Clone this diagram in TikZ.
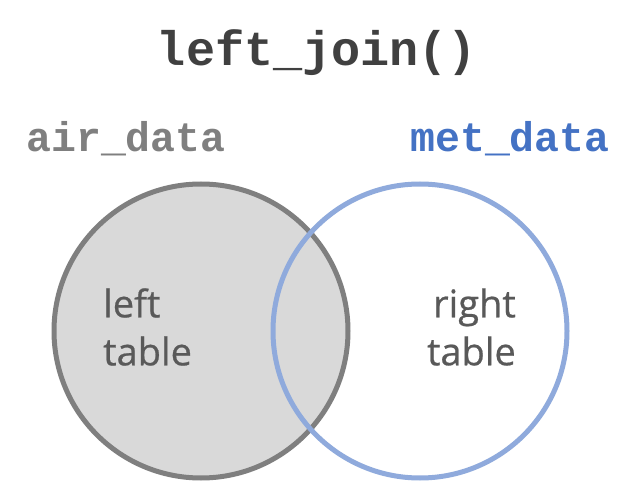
\documentclass[tikz,border=0pt]{standalone}
\usepackage{fontspec}
\setmainfont{Open Sans}[FakeBold=0.6]
\newfontfamily\codefont{Liberation Mono}
\definecolor{titlec}{HTML}{404040}
\definecolor{leftc}{HTML}{7F7F7F}
\definecolor{rightc}{HTML}{4472C4}
\definecolor{labc}{HTML}{595959}
\definecolor{fillc}{HTML}{D9D9D9}
\definecolor{bluec}{HTML}{8FAADC}
\begin{document}
\begin{tikzpicture}[x=1pt,y=1pt,
  code/.style={font=\codefont\bfseries\fontsize{41.5}{41.5}\selectfont, inner sep=0pt, anchor=base},
  lab/.style={font=\fontsize{38}{48}\selectfont, text=labc, inner sep=0pt}]
\useasboundingbox (0,0) rectangle (638,483);
\fill[white] (0,0) rectangle (638,483);
\node[code, font=\codefont\bfseries\fontsize{48.5}{48.5}\selectfont, text=titlec] (title) at (317,417) {left\_join()};
\node[code, text=leftc] (air) at (126,331) {air\_data};
\node[code, text=rightc] (met) at (510,331) {met\_data};
\draw[leftc, line width=5, fill=fillc] (201,152) circle[radius=147] coordinate (lc);
\draw[bluec, line width=5] (420,152) circle[radius=147] coordinate (rc);
\node[lab, align=left, anchor=west] (ltab) at (103,156) {left\\table};
\node[lab, align=right, anchor=east] (rtab) at (516,156) {right\\table};
\end{tikzpicture}
\end{document}
